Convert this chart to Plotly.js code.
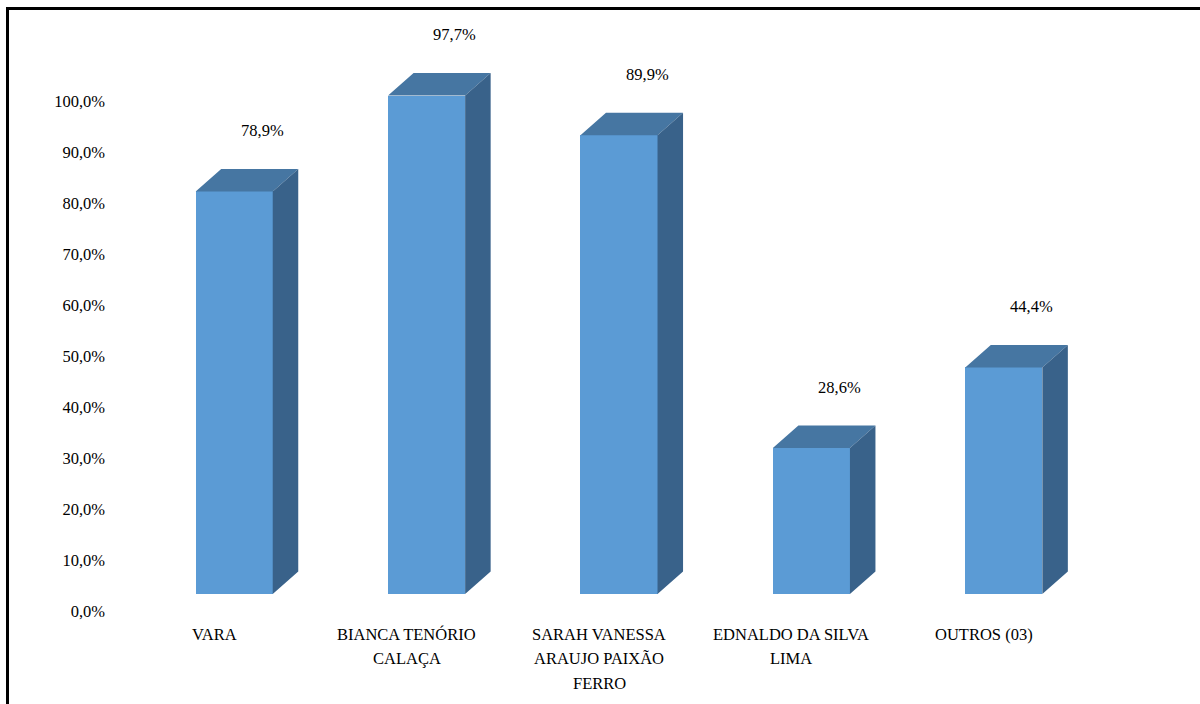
<!DOCTYPE html>
<html>
<head>
<meta charset="utf-8">
<script src="https://cdn.plot.ly/plotly-3.0.1.min.js"></script>
<style>
  html, body { margin: 0; padding: 0; background: #fff; }
  #chart { width: 1200px; height: 704px; position: relative; }
  #frame { position: absolute; left: 6px; top: 7px; width: 1194px; height: 697px;
           border-top: 3px solid #000; border-left: 3px solid #000; box-sizing: border-box;
           pointer-events: none; }
</style>
</head>
<body>
<div id="chart"></div>
<div id="frame"></div>
<script>
// ---- data ----
const categories = [["VARA"], ["BIANCA TENÓRIO", "CALAÇA"], ["SARAH VANESSA", "ARAUJO PAIXÃO", "FERRO"], ["EDNALDO DA SILVA", "LIMA"], ["OUTROS (03)"]];
const values = [78.9, 97.7, 89.9, 28.6, 44.4];
const yTickVals = [0, 10, 20, 30, 40, 50, 60, 70, 80, 90, 100];
const yTickText = ["0,0%", "10,0%", "20,0%", "30,0%", "40,0%", "50,0%", "60,0%", "70,0%", "80,0%", "90,0%", "100,0%"];

// ---- style / geometry ----
const W = 1200, H = 704;
const margin = { l: 138.35, r: 100.35, t: 9.2, b: 76 };
const xRange = [-0.5, 4.5];
const yRange = [-3.33, 118];
const plotW = W - margin.l - margin.r;
const plotH = H - margin.t - margin.b;
const pxX = plotW / (xRange[1] - xRange[0]);   // px per x unit
const pxY = plotH / (yRange[1] - yRange[0]);   // px per y unit
const barW = 77 / pxX;          // front face width in x units
const depthX = 25.5 / pxX;      // 3D depth offset
const depthY = 22.5 / pxY;
const base = 17 / pxY;          // front-face floor offset from axis zero
const colFront = "#5B9BD5", colTop = "#4676A2", colSide = "#39628A";
const fontFam = "Liberation Serif";
const fSize = 16.5;

const xs = categories.map((c, i) => i);

// top & side faces built from the values
const topX = [], topY = [], sideX = [], sideY = [];
values.forEach((v, i) => {
  const l = i - barW / 2, r = i + barW / 2, yt = base + v, yb = base;
  topX.push(l, r, r + depthX, l + depthX, l, null);
  topY.push(yt, yt, yt + depthY, yt + depthY, yt, null);
  sideX.push(r, r + depthX, r + depthX, r, r, null);
  sideY.push(yb, yb + depthY, yt + depthY, yt, yb, null);
});

const traces = [
  { type: "bar", x: xs, y: values, base: base, width: barW,
    marker: { color: colFront, line: { width: 0 } }, hoverinfo: "skip" },
  { type: "scatter", mode: "lines", x: topX, y: topY, fill: "toself", fillcolor: colTop,
    line: { width: 0, color: colTop }, hoverinfo: "skip" },
  { type: "scatter", mode: "lines", x: sideX, y: sideY, fill: "toself", fillcolor: colSide,
    line: { width: 0, color: colSide }, hoverinfo: "skip" }
];

const annotations = values.map((v, i) => ({
  x: i, y: base + v, xref: "x", yref: "y",
  text: v.toFixed(1).replace(".", ",") + "%",
  showarrow: false, xshift: 28, yshift: 61,
  font: { family: fontFam, size: fSize, color: "#000" }
}));

// category labels, one line each (wider line spacing than Plotly's default)
categories.forEach((lines, i) => {
  lines.forEach((txt, k) => {
    annotations.push({
      x: i, y: yRange[0], xref: "x", yref: "y",
      text: txt, showarrow: false, xanchor: "center", yanchor: "middle",
      xshift: -20, yshift: -(6 + 24.5 * k),
      font: { family: fontFam, size: fSize, color: "#000" }
    });
  });
});

const layout = {
  width: W, height: H,
  margin: margin,
  paper_bgcolor: "#fff", plot_bgcolor: "rgba(0,0,0,0)",
  showlegend: false,
  font: { family: fontFam, size: fSize, color: "#000" },
  xaxis: {
    range: xRange, tickvals: xs,
    showgrid: false, zeroline: false, showline: false, ticks: "",
    showticklabels: false
  },
  yaxis: {
    range: yRange, tickvals: yTickVals, ticktext: yTickText,
    showgrid: false, zeroline: false, showline: false, ticks: "",
    ticklabelstandoff: 32,
    tickfont: { family: fontFam, size: fSize, color: "#000" }
  },
  annotations: annotations,
  bargap: 0
};

Plotly.newPlot("chart", traces, layout, { staticPlot: true, displayModeBar: false });
</script>
</body>
</html>
